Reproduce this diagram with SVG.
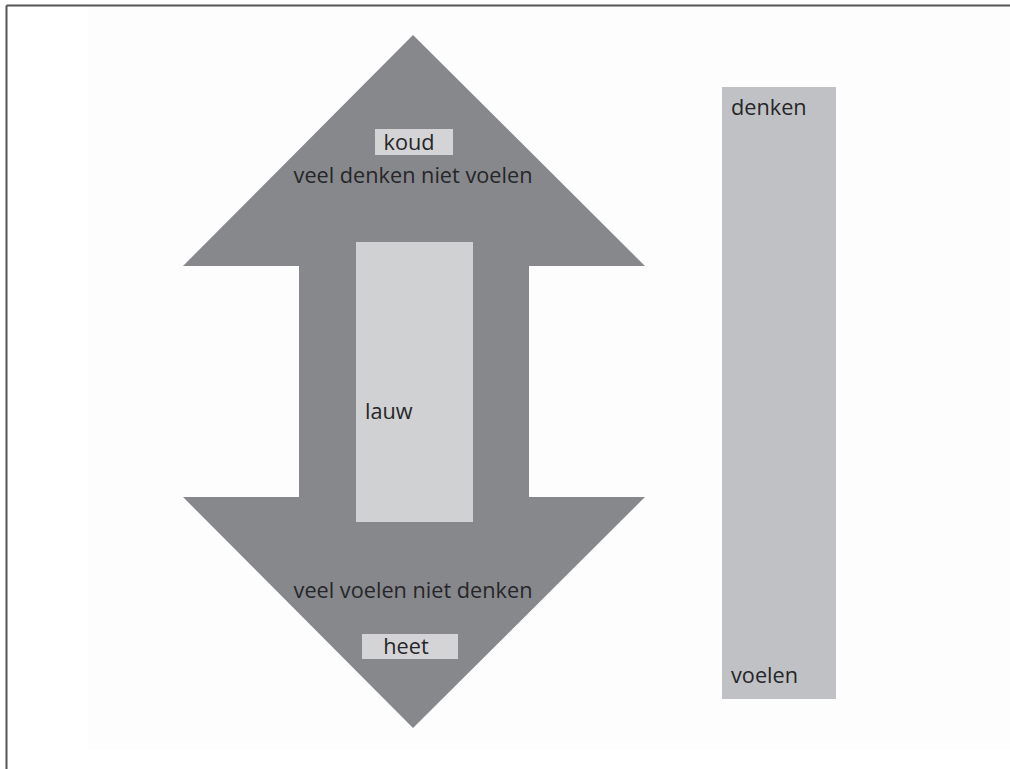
<svg xmlns="http://www.w3.org/2000/svg" width="1010" height="769" viewBox="0 0 1010 769">
<style>
  .t { font-family: "Open Sans", "Liberation Sans", sans-serif; font-size: 21.7px; fill: #262628; }
  .c { text-anchor: middle; }
  .lbl { fill: #d4d4d6; }
</style>
<rect x="0" y="0" width="1010" height="769" fill="#ffffff"/>
<rect x="88" y="6" width="922" height="743" fill="#fdfdfd"/>
<g id="frame" stroke="#555555" stroke-width="2" fill="none">
  <line x1="6.5" y1="5.5" x2="1010" y2="5.5"/>
  <line x1="6.5" y1="5.5" x2="6.5" y2="769"/>
</g>
<g id="arrow">
  <path d="M413,35 L645,266 L529,266 L529,497 L645,497 L413,728 L183,497 L299,497 L299,266 L183,266 Z" fill="#87888c"/>
</g>
<g id="lauw">
  <rect x="356" y="242" width="117" height="280" fill="#d0d1d3"/>
  <text class="t" x="365" y="419">lauw</text>
</g>
<g id="koud">
  <rect class="lbl" x="375" y="129" width="78" height="26"/>
  <text class="t c" x="409" y="150">koud</text>
</g>
<g id="top-text">
  <text class="t c" x="413" y="183">veel denken niet voelen</text>
</g>
<g id="bottom-text">
  <text class="t c" x="413" y="598">veel voelen niet denken</text>
</g>
<g id="heet">
  <rect class="lbl" x="362" y="634" width="96" height="25"/>
  <text class="t c" x="406" y="654">heet</text>
</g>
<g id="scale">
  <rect x="722" y="87" width="114" height="612" fill="#c0c1c4"/>
  <text class="t" x="731" y="115">denken</text>
  <text class="t" x="731" y="683">voelen</text>
</g>
<g id="connectors"></g>
</svg>
